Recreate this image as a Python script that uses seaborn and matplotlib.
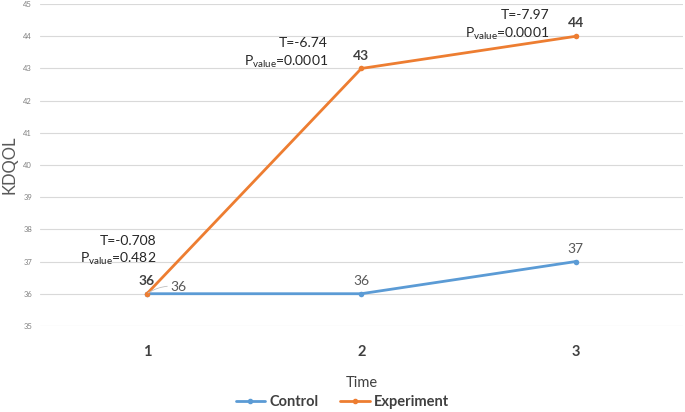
import matplotlib
matplotlib.use("Agg")
import matplotlib.pyplot as plt
import seaborn as sns
import pandas as pd

# Data
time_points = [1, 2, 3]
control = [36, 36, 37]
experiment = [36, 43, 44]
t_values = ["-0.708", "-6.74", "-7.97"]
p_values = ["0.482", "0.0001", "0.0001"]

df = pd.DataFrame({
    "Time": time_points * 2,
    "KDQOL": control + experiment,
    "Group": ["Control"] * 3 + ["Experiment"] * 3,
})

sns.set_theme(style="white")
plt.rcParams["font.family"] = ["Lato", "DejaVu Sans"]
plt.rcParams["mathtext.fontset"] = "custom"
plt.rcParams["mathtext.rm"] = "Lato"

blue = "#5B9BD5"
orange = "#ED7D31"
txt = "#404040"

fig = plt.figure(figsize=(6.85, 4.12), dpi=100)
ax = fig.add_axes([0.058, 0.209, 0.939, 0.781])

sns.lineplot(data=df, x="Time", y="KDQOL", hue="Group",
             palette={"Control": blue, "Experiment": orange},
             marker="o", markersize=4, markeredgewidth=0, linewidth=2,
             ax=ax, legend=False)

ax.set_xlim(0.5, 3.5)
ax.set_ylim(35, 45)
ax.set_yticks(range(35, 46))
ax.set_xticks(time_points)
ax.set_xticklabels([str(t) for t in time_points], fontweight="bold",
                   fontsize=10.5, color=txt)
ax.tick_params(axis="y", labelsize=5.5, labelcolor="#808080", length=0, pad=5.5)
ax.tick_params(axis="x", length=0, pad=14)
ax.grid(axis="y", color="#D9D9D9", linewidth=0.8)
for s in ax.spines.values():
    s.set_visible(False)

ax.set_xlabel("Time", fontsize=10.5, color=txt, labelpad=12)
ax.set_ylabel("KDQOL", fontsize=12, color="#595959")
ax.yaxis.set_label_coords(-0.035, 0.5)

# experiment labels (bold)
for x, y in zip(time_points, experiment):
    ax.annotate(str(y), (x, y), xytext=(0, 5), textcoords="offset points",
                ha="center", va="bottom", fontsize=10, fontweight="bold",
                color=txt)

# control labels
ax.annotate(str(control[0]), (time_points[0], control[0]), xytext=(17, 5),
            textcoords="offset points", ha="left", va="center", fontsize=10,
            color="#595959",
            arrowprops=dict(arrowstyle="-", color="#BFBFBF", lw=0.6,
                            connectionstyle="arc3,rad=0.2", shrinkA=0, shrinkB=1))
for x, y in zip(time_points[1:], control[1:]):
    ax.annotate(str(y), (x, y), xytext=(0, 5), textcoords="offset points",
                ha="center", va="bottom", fontsize=10, color="#595959")

# T / P annotations
t_offsets = [(7, 38), (-24, 18), (-19, 15)]
for x, y, t, p, off in zip(time_points, experiment, t_values, p_values, t_offsets):
    ax.annotate(f"T={t}", (x, y), xytext=off, textcoords="offset points",
                ha="right", va="center", fontsize=10, color="#262626")
    ax.annotate(r"P$_{\mathregular{value}}$=" + p, (x, y),
                xytext=(off[0], off[1] - 13), textcoords="offset points",
                ha="right", va="center", fontsize=10, color="#262626")

handles = [plt.Line2D([], [], color=blue, marker="o", markersize=3, lw=2),
           plt.Line2D([], [], color=orange, marker="o", markersize=3, lw=2)]
leg = fig.legend(handles, ["Control", "Experiment"], loc="center",
                 bbox_to_anchor=(0.5, 0.024), ncol=2, frameon=False,
                 handlelength=2, handletextpad=0.3, columnspacing=1.5,
                 prop={"weight": "bold", "size": 10.5})
for t in leg.get_texts():
    t.set_color(txt)

fig.savefig("out.png", dpi=100)
